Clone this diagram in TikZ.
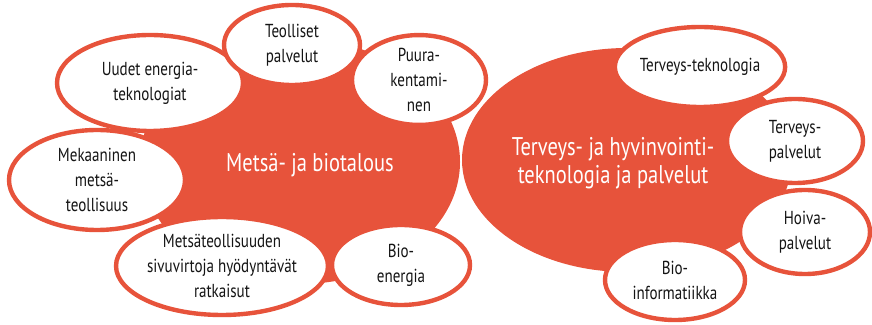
\documentclass[tikz,border=0pt]{standalone}
\usepackage{fontspec}
\setmainfont{PT Sans}[FakeStretch=0.8]
\usepackage{xcolor}
\definecolor{coral}{RGB}{231,83,59}
\definecolor{ink}{RGB}{20,20,20}
\usepackage{tikz}
\usetikzlibrary{shapes.geometric}

\begin{document}
\begin{tikzpicture}[
  x=0.5pt,y=-0.5pt,
  big/.style={ellipse,fill=coral,draw=none,text=white,
              font=\fontsize{12.5}{14}\selectfont,align=center},
  sub/.style={ellipse,fill=white,draw=coral,line width=2.2pt,text=ink,
              font=\fontsize{9.4}{12.5}\selectfont,align=center,inner sep=0pt},
]
  \useasboundingbox (0,0) rectangle (872,325);
  % main areas
  \node[big,minimum width=160pt,minimum height=122pt](metsa) at (300,162){};
  \node[big,minimum width=165pt,minimum height=112pt](terveys) at (627,160){};
  \node[text=white,font=\fontsize{12.8}{14}\selectfont](metsaT) at (310,165)
    {Metsä- ja biotalous};
  \node[text=white,font=\fontsize{12.8}{14}\selectfont,align=center](terveysT)
    at (613,163){Terveys- ja hyvinvointi-\\teknologia ja palvelut};
  % metsä- ja biotalous
  \node[sub,minimum width=93pt,minimum height=48pt](uudet) at (150,83)
    {Uudet energia-\\teknologiat};
  \node[sub,minimum width=68pt,minimum height=40pt](teolliset) at (292,45)
    {Teolliset\\palvelut};
  \node[sub,minimum width=67pt,minimum height=41pt](puu) at (419,80)
    {Puura-\\kentami-\\nen};
  \node[sub,minimum width=88pt,minimum height=50pt](mekaaninen) at (97,180)
    {Mekaaninen\\metsä-\\teollisuus};
  \node[sub,minimum width=105pt,minimum height=49pt](sivuvirta) at (222,266)
    {Metsäteollisuuden\\sivuvirtoja hyödyntävät\\ratkaisut};
  \node[sub,minimum width=69pt,minimum height=40pt](bioenergia) at (401,265)
    {Bio-\\energia};
  % terveys- ja hyvinvointi
  \node[sub,minimum width=76pt,minimum height=40pt](tekno) at (700,67)
    {Terveys-teknologia};
  \node[sub,minimum width=68pt,minimum height=42pt](tpalvelut) at (795,141)
    {Terveys-\\palvelut};
  \node[sub,minimum width=65pt,minimum height=42pt](hoiva) at (805,232)
    {Hoiva-\\palvelut};
  \node[sub,minimum width=70pt,minimum height=40pt](bioinfo) at (675,280)
    {Bio-\\informatiikka};
\end{tikzpicture}
\end{document}
